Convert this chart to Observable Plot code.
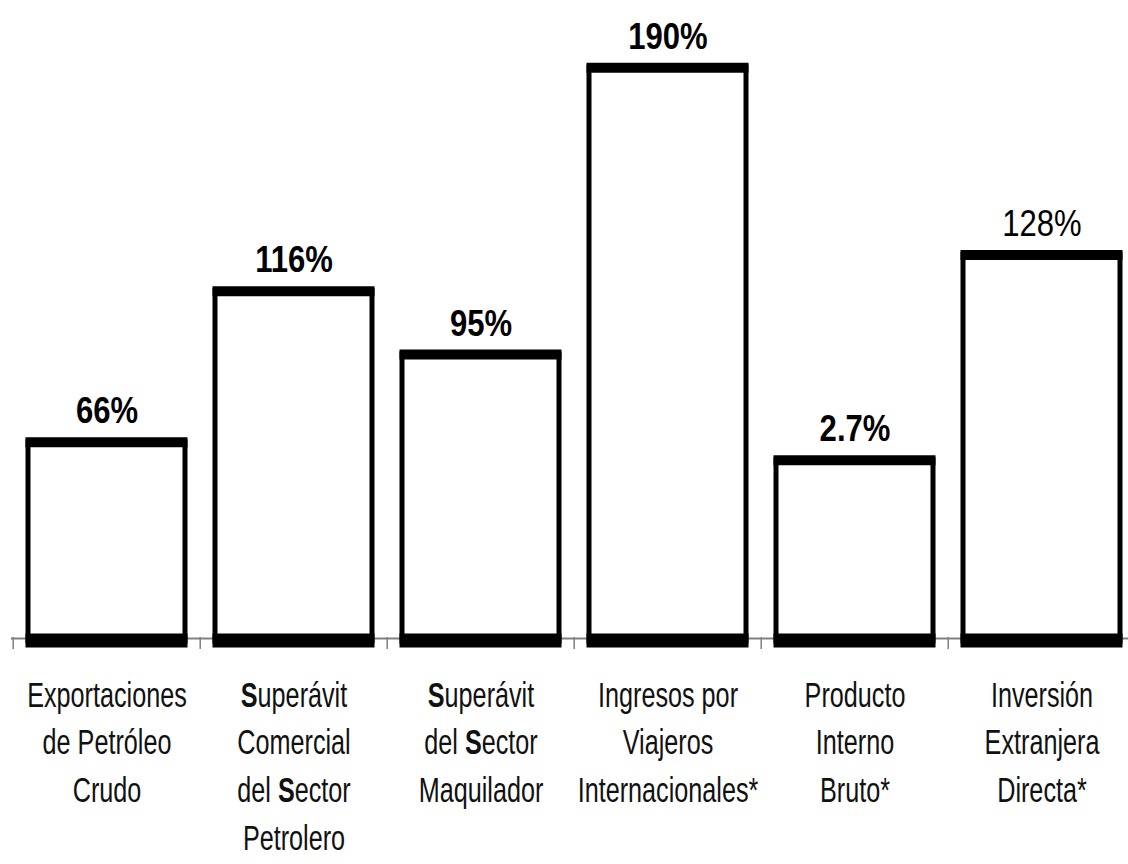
<!DOCTYPE html>
<html>
<head>
<meta charset="utf-8">
<script src="https://cdn.jsdelivr.net/npm/d3@7"></script>
<script src="https://cdn.jsdelivr.net/npm/@observablehq/plot@0.6"></script>
<style>
  html, body { margin: 0; padding: 0; background: #fff; overflow: hidden; }
  #chart svg { display: block; }
</style>
</head>
<body>
<div id="chart"></div>
<script>
// Category labels (x axis)
const categories = [
  "Exportaciones\nde Petróleo\nCrudo",
  "Superávit\nComercial\ndel Sector\nPetrolero",
  "Superávit\ndel Sector\nMaquilador",
  "Ingresos por\nViajeros\nInternacionales*",
  "Producto\nInterno\nBruto*",
  "Inversión\nExtranjera\nDirecta*"
];
// Printed value labels
const valueLabels = ["66%", "116%", "95%", "190%", "2.7%", "128%"];
// Bar heights as drawn in the picture (the 2.7% bar is drawn at about 60 units)
const barHeights = [66, 116, 95, 190, 60, 128];

const data = categories.map((c, i) => ({cat: c, h: barHeights[i], label: valueLabels[i]}));

const FONT = "'Liberation Sans', Arial, sans-serif";

const plot = Plot.plot({
  width: 1128,
  height: 864,
  marginLeft: 11,
  marginRight: -9,
  marginTop: 37,
  marginBottom: 223,
  style: {fontFamily: FONT, background: "#fff", overflow: "visible"},
  x: {domain: categories, paddingInner: 0.163, paddingOuter: 0.0815, axis: null, label: null},
  y: {domain: [0, 200], axis: null, label: null},
  marks: [
    // baseline axis line (gray)
    Plot.ruleY([0], {stroke: "#808080", strokeWidth: 2, dy: -3}),
    // tick marks between categories
    Plot.axisX({tickSize: 12, tickFormat: () => "", label: null, stroke: "#808080", strokeWidth: 1.5, dx: -93.8, dy: -4}),
    // bars
    Plot.barY(data, {x: "cat", y: "h", fill: "#fff", stroke: "#000", strokeWidth: 5}),
    // thick top edges
    Plot.tickY(data, {x: "cat", y: "h", stroke: "#000", strokeWidth: 10, insetLeft: -2.5, insetRight: -2.5}),
    // thick bottom edges
    Plot.tickY(data, {x: "cat", y: () => 0, stroke: "#000", strokeWidth: 14, insetLeft: -2.5, insetRight: -2.5, dy: -1}),
    // value labels
    Plot.text(data.filter(d => d.label !== "128%"), {x: "cat", y: "h", text: "label", dy: -19, lineAnchor: "bottom", fontSize: 37, fontWeight: "bold", fill: "#000", className: "val"}),
    Plot.text(data.filter(d => d.label === "128%"), {x: "cat", y: "h", text: "label", dy: -19, lineAnchor: "bottom", fontSize: 37, fontWeight: "normal", fill: "#000", className: "val"}),
    // category labels
    Plot.text(data, {x: "cat", frameAnchor: "bottom", text: "cat", dy: 31, lineAnchor: "top", fontSize: 35, lineHeight: 1.37, fill: "#111", className: "cat"})
  ]
});

document.getElementById("chart").appendChild(plot);

// horizontally condense labels like the reference's narrow typeface
function condense(sel, s) {
  plot.querySelectorAll(sel).forEach(t => {
    const tr = t.getAttribute("transform");
    if (tr) t.setAttribute("transform", tr + ` scale(${s},1)`);
  });
}
condense(".cat text", 0.72);
condense(".val text", 0.84);

// the reference prints the capital "S" of "Superávit" / "Sector" in bold
plot.querySelectorAll(".cat text tspan").forEach(ts => {
  const s = ts.textContent;
  if (!/S/.test(s)) return;
  ts.textContent = "";
  s.split(/(S)/).forEach(part => {
    if (part === "S") {
      const b = document.createElementNS("http://www.w3.org/2000/svg", "tspan");
      b.setAttribute("font-weight", "bold");
      b.textContent = "S";
      ts.appendChild(b);
    } else if (part) {
      ts.appendChild(document.createTextNode(part));
    }
  });
});
</script>
</body>
</html>
